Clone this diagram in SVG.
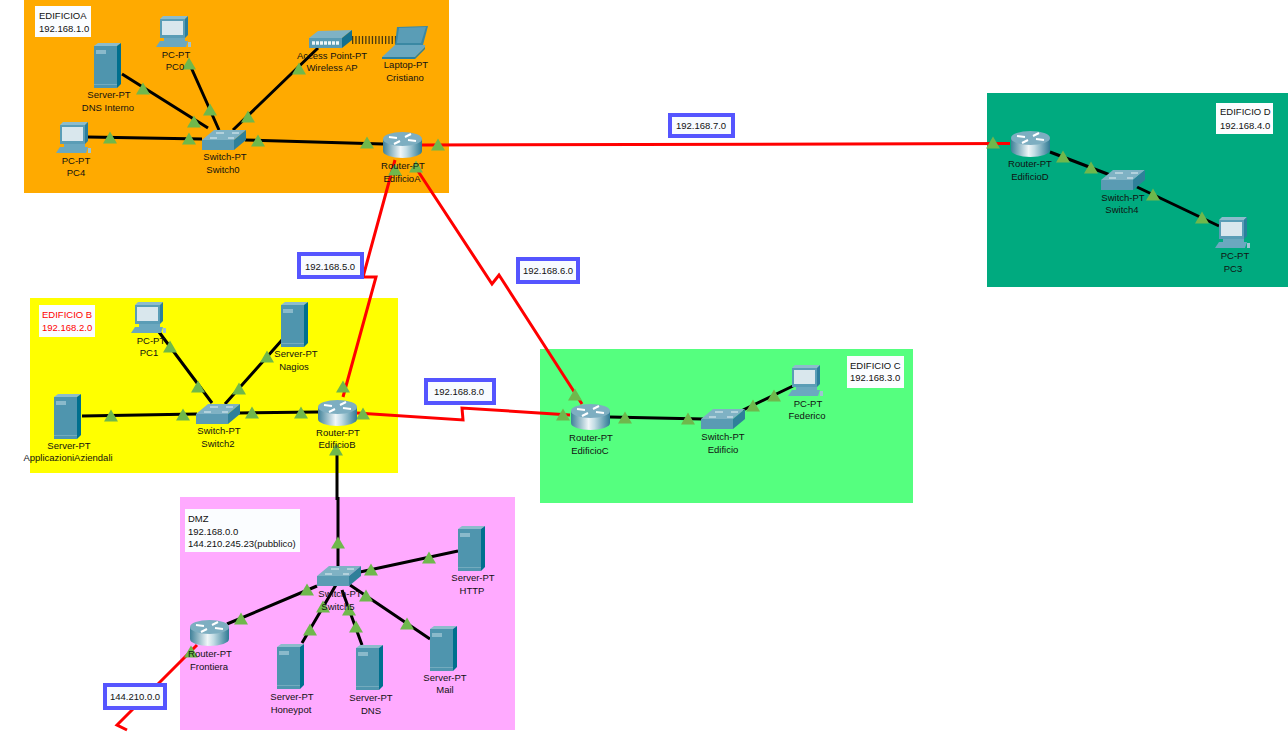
<svg xmlns="http://www.w3.org/2000/svg" width="1288" height="732" viewBox="0 0 1288 732">
<style>
text{font-family:"Liberation Sans",Arial,sans-serif;font-size:9.500px;fill:#111;text-anchor:middle}
.note text{text-anchor:start}
.eth{fill:none;stroke:#000;stroke-width:3}
.ser{fill:none;stroke:#f00;stroke-width:3}
.lab{fill:#f8fbff;stroke:#5555ff;stroke-width:4}
.box{fill:#fbfdff}
</style>
<defs>
<linearGradient id="cyl" x1="0" x2="1" y1="0" y2="0"><stop offset="0" stop-color="#3f8199"/><stop offset=".45" stop-color="#f0f6f8"/><stop offset=".6" stop-color="#c4dde5"/><stop offset="1" stop-color="#2f7a94"/></linearGradient>
<polygon id="t" points="0,-6.500 7,5.500 -7,5.500" fill="#6fb84c"/>
<g id="pc">
<polygon points="4,3 7,0 32,0 29,3" fill="#8dbccc"/><polygon points="29,3 32,0 32,19 29,22" fill="#2c7f9d"/>
<rect x="4" y="3" width="25" height="19" fill="#5a9db6"/><rect x="6" y="5" width="21" height="14" fill="#d9e7ed"/>
<rect x="8" y="22" width="21" height="3" fill="#6ba8bf"/>
<polygon points="4,25 32,25 30,31 0,31" fill="#6ba8bf"/><rect x="32" y="26" width="3" height="5" fill="#9fc4d2"/>
</g>
<g id="srv">
<polygon points="0,3 4,0 27,0 23,3" fill="#8dbccc"/><polygon points="23,3 27,0 27,41 23,45" fill="#006f8e"/>
<rect y="3" width="23" height="42" fill="#4f95ae"/><rect x="2" y="7" width="10" height="4" fill="#8abacb"/><rect y="41" width="23" height="1" fill="#73abbe"/>
</g>
<g id="rtr">
<path d="M0,7V19A19.500,7 0 0 0 39,19V7Z" fill="url(#cyl)"/><ellipse cx="19.500" cy="7" rx="19.500" ry="7" fill="#7daec1"/>
<path d="M6,5 14,6M25,8 33,9M22,5 28,2M17,9 11,12" stroke="#fff" stroke-width="2" fill="none"/>
</g>
<g id="sw">
<polygon points="0,10 12,0 44,0 32,10" fill="#7fb2c4"/><polygon points="32,10 44,0 44,10 32,20" fill="#2f8099"/><rect y="10" width="32" height="10" fill="#5a9bb3"/>
<path d="M8,8 15,8M26,8 32,8M14,3 22,3M30,3 37,3" stroke="#e6f1f5" stroke-width="1" fill="none"/>
</g>
</defs>
<rect width="1288" height="732" fill="#fff"/>
<g id="areas">
<rect x="24" y="0" width="425" height="193" fill="#ffaa00"/>
<rect x="987" y="93" width="301" height="194" fill="#00aa7f"/>
<rect x="30" y="298" width="368" height="175" fill="#ffff00"/>
<rect x="180" y="497" width="335" height="233" fill="#ffaaff"/>
<rect x="540" y="349" width="373" height="154" fill="#55ff7f"/>
</g>
<g id="connectors">
<path class="eth" d="M88,137 202,139M245,140 383,144M122,74 208,128M190,65 219,130M318,48 233,130"/>
<path d="M352,40H396" fill="none" stroke="#4a3a10" stroke-width="8" stroke-dasharray="1.300 2"/>
<path class="eth" d="M159,332 212,403M282,340 225,404M82,416 197,414M238,413 318,412M337,450V500M338,497V566"/>
<path class="eth" d="M360,572 458,551M227,624 317,586M302,643 340,578M362,645 342,590M430,639 350,585"/>
<path class="eth" d="M610,417 703,419M743,410 793,386M1050,152 1118,178M1137,187 1219,226"/>
<path class="ser" d="M422,145 1010,143.500M395,160 363,277 376,277 343,397M414,165 492,284 499,275 582,404M357,413 463,420 462,408 570,415M197,645 117,725 127,730"/>
</g>
<g id="triangles">
<use href="#t" x="110" y="138"/><use href="#t" x="189" y="139"/><use href="#t" x="258" y="141"/><use href="#t" x="367" y="143"/><use href="#t" x="438" y="145"/><use href="#t" x="395" y="170"/><use href="#t" x="416" y="167"/><use href="#t" x="143" y="89"/><use href="#t" x="194" y="122"/><use href="#t" x="210" y="110"/><use href="#t" x="189" y="64"/><use href="#t" x="248" y="117"/><use href="#t" x="299" y="69"/>
<use href="#t" x="170" y="347"/><use href="#t" x="198" y="387"/><use href="#t" x="239" y="389"/><use href="#t" x="267" y="357"/><use href="#t" x="111" y="416"/><use href="#t" x="183" y="415"/><use href="#t" x="252" y="413"/><use href="#t" x="301" y="413"/><use href="#t" x="343" y="387"/><use href="#t" x="363" y="414"/><use href="#t" x="336" y="450"/>
<use href="#t" x="338" y="543"/><use href="#t" x="371" y="570"/><use href="#t" x="429" y="558"/><use href="#t" x="307" y="590"/><use href="#t" x="241" y="619"/><use href="#t" x="191" y="652"/><use href="#t" x="323" y="607"/><use href="#t" x="310" y="630"/><use href="#t" x="349" y="610"/><use href="#t" x="356" y="627"/><use href="#t" x="366" y="596"/><use href="#t" x="407" y="624"/>
<use href="#t" x="575" y="395"/><use href="#t" x="563" y="415"/><use href="#t" x="625" y="418"/><use href="#t" x="688" y="419"/><use href="#t" x="753" y="406"/><use href="#t" x="774" y="396"/>
<use href="#t" x="993" y="143"/><use href="#t" x="1063" y="157"/><use href="#t" x="1091" y="168"/><use href="#t" x="1153" y="195"/><use href="#t" x="1202" y="218"/>
</g>
<g id="pc0"><use href="#pc" x="156" y="16"/><text x="176" y="58">PC-PT</text><text x="175" y="70">PC0</text></g>
<g id="dns-interno"><use href="#srv" x="94" y="43"/><text x="109" y="98">Server-PT</text><text x="108" y="111">DNS Interno</text></g>
<g id="pc4"><use href="#pc" x="56" y="122"/><text x="76" y="164">PC-PT</text><text x="76" y="176">PC4</text></g>
<g id="switch0"><use href="#sw" x="202" y="130"/><text x="225" y="160">Switch-PT</text><text x="223" y="173">Switch0</text></g>
<g id="wireless-ap"><polygon points="309,38 318,31 352,30 342,38" fill="#7fb2c4"/><polygon points="342,38 352,30 352,40 342,48" fill="#15708f"/><rect x="309" y="38" width="33" height="10" fill="#5a9bb3"/><path d="M312,43H339" fill="none" stroke="#eef6f8" stroke-width="3.500" stroke-dasharray="3 1"/><text x="332" y="59">Access Point-PT</text><text x="332" y="71">Wireless AP</text></g>
<g id="cristiano"><polygon points="397,27 428,26 423,45 395,45" fill="#3a88a3"/><polygon points="399,28 426,27 421,43 397,43" fill="#5a9db6"/><polygon points="395,45 425,45 425,47 415,57 382,57" fill="#6ba8bf"/><polygon points="415,57 425,47 425,49 415,59 382,59 382,57" fill="#2b7f9c"/><text x="406" y="68">Laptop-PT</text><text x="405" y="81">Cristiano</text></g>
<g id="edificioa"><use href="#rtr" x="383" y="132"/><text x="403" y="169">Router-PT</text><text x="402" y="182">EdificioA</text></g>
<g id="edificiod"><use href="#rtr" x="1011" y="131"/><text x="1030" y="167">Router-PT</text><text x="1030" y="180">EdificioD</text></g>
<g id="switch4"><use href="#sw" x="1101" y="170"/><text x="1123" y="201">Switch-PT</text><text x="1122" y="213">Switch4</text></g>
<g id="pc3"><use href="#pc" x="1215" y="217"/><text x="1235" y="259">PC-PT</text><text x="1233" y="272">PC3</text></g>
<g id="pc1"><use href="#pc" x="131" y="302"/><text x="151" y="344">PC-PT</text><text x="149" y="356">PC1</text></g>
<g id="nagios"><use href="#srv" x="281" y="302"/><text x="296" y="357">Server-PT</text><text x="294" y="370">Nagios</text></g>
<g id="applicazioni"><use href="#srv" x="54" y="394"/><text x="69" y="449">Server-PT</text><text x="68" y="461">ApplicazioniAziendali</text></g>
<g id="switch2"><use href="#sw" x="196" y="404"/><text x="219" y="434">Switch-PT</text><text x="218" y="447">Switch2</text></g>
<g id="edificiob"><use href="#rtr" x="318" y="400"/><text x="338" y="436">Router-PT</text><text x="337" y="448">EdificioB</text></g>
<g id="edificioc"><use href="#rtr" x="571" y="404"/><text x="591" y="441">Router-PT</text><text x="590" y="454">EdificioC</text></g>
<g id="edificio"><use href="#sw" x="701" y="409"/><text x="723" y="440">Switch-PT</text><text x="723" y="453">Edificio</text></g>
<g id="federico"><use href="#pc" x="788" y="365"/><text x="808" y="407">PC-PT</text><text x="807" y="419">Federico</text></g>
<g id="switch5"><use href="#sw" x="317" y="566"/><text x="340" y="597">Switch-PT</text><text x="338" y="610">Switch5</text></g>
<g id="frontiera"><use href="#rtr" x="190" y="620"/><text x="210" y="657">Router-PT</text><text x="209" y="670">Frontiera</text></g>
<g id="http"><use href="#srv" x="458" y="526"/><text x="473" y="581">Server-PT</text><text x="472" y="594">HTTP</text></g>
<g id="mail"><use href="#srv" x="430" y="626"/><text x="445" y="681">Server-PT</text><text x="445" y="693">Mail</text></g>
<g id="honeypot"><use href="#srv" x="277" y="644"/><text x="292" y="700">Server-PT</text><text x="291" y="713">Honeypot</text></g>
<g id="dns"><use href="#srv" x="356" y="645"/><text x="371" y="701">Server-PT</text><text x="371" y="714">DNS</text></g>
<g id="notes" class="note">
<rect class="box" x="35" y="6" width="56" height="31"/><text x="39" y="19">EDIFICIOA</text><text x="39" y="32">192.168.1.0</text>
<rect class="box" x="1216" y="103" width="57" height="31"/><text x="1220" y="115">EDIFICIO D</text><text x="1220" y="129">192.168.4.0</text>
<rect class="box" x="39" y="305" width="56" height="32"/><text x="42" y="318" style="fill:#f00">EDIFICIO B</text><text x="42" y="331" style="fill:#f00">192.168.2.0</text>
<rect class="box" x="847" y="356" width="57" height="32"/><text x="850" y="369">EDIFICIO C</text><text x="850" y="381">192.168.3.0</text>
<rect class="box" x="185" y="509" width="115" height="43"/><text x="188" y="522">DMZ</text><text x="188" y="535">192.168.0.0</text><text x="188" y="547">144.210.245.23(pubblico)</text>
</g>
<g id="labels">
<rect class="lab" x="670" y="115" width="63" height="21"/><text x="701" y="129">192.168.7.0</text>
<rect class="lab" x="299" y="254" width="63" height="23"/><text x="330" y="270">192.168.5.0</text>
<rect class="lab" x="518" y="259" width="60" height="23"/><text x="548" y="274">192.168.6.0</text>
<rect class="lab" x="426" y="380" width="68" height="23"/><text x="459" y="395">192.168.8.0</text>
<rect class="lab" x="105" y="685" width="60" height="23"/><text x="135" y="700">144.210.0.0</text>
</g>
</svg>
